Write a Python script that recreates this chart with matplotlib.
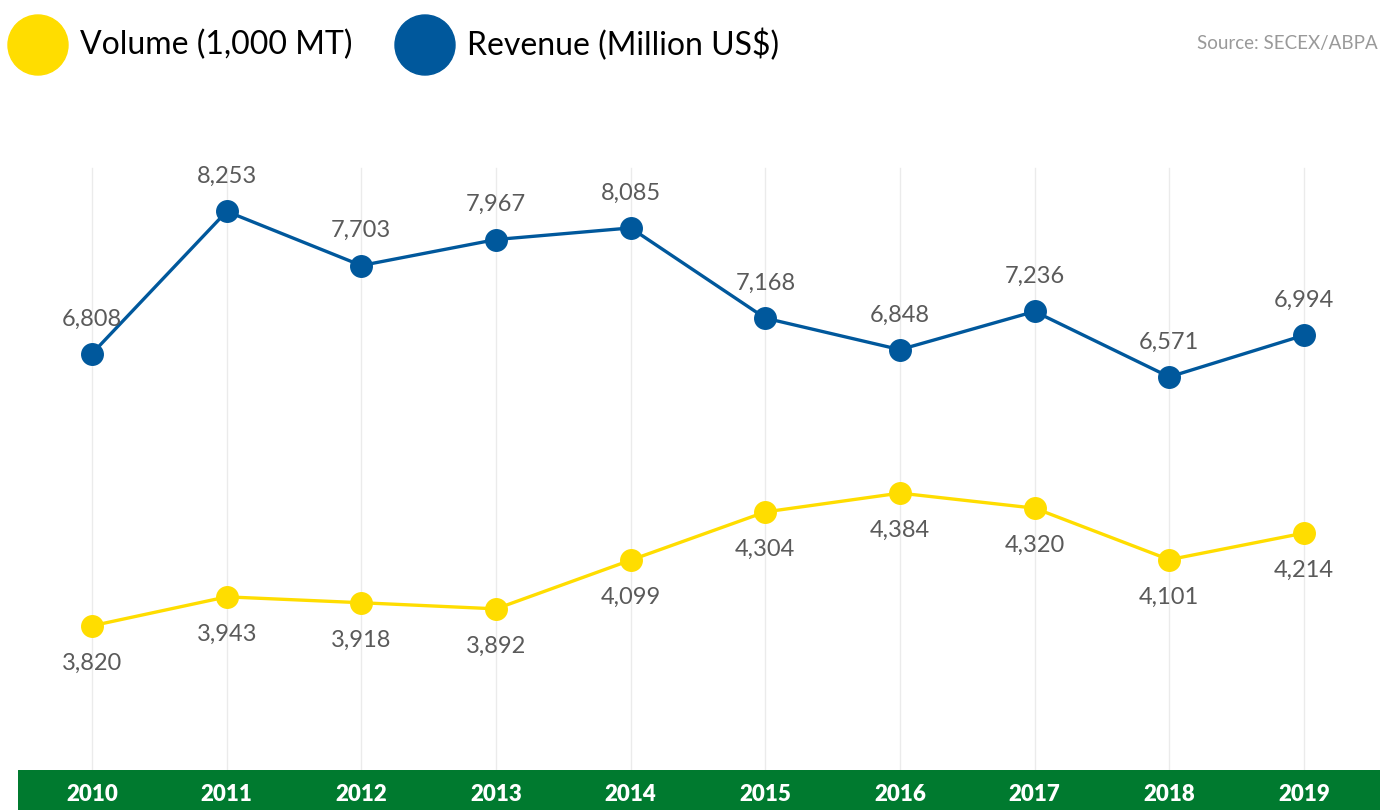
import matplotlib.pyplot as plt
from matplotlib.patches import Rectangle, Ellipse

years = [2010, 2011, 2012, 2013, 2014, 2015, 2016, 2017, 2018, 2019]
revenue = [6808, 8253, 7703, 7967, 8085, 7168, 6848, 7236, 6571, 6994]
volume = [3820, 3943, 3918, 3892, 4099, 4304, 4384, 4320, 4101, 4214]

YELLOW = "#FFDD00"
BLUE = "#00589C"
GREEN = "#007A2F"
GREY = "#5a5a5a"

plt.rcParams['font.family'] = ['Lato', 'DejaVu Sans']

fig = plt.figure(figsize=(13.91, 8.10), dpi=100)
W, H = 1391, 810

# plot area in pixel terms: x 18..1380, y 100..770 (from top)
ax = fig.add_axes([18 / W, 40 / H, 1362 / W, 670 / H])
ax.set_xlim(2010 - 0.55, 2019 + 0.565)
ax.set_ylim(2576, 9385)
ax.axis('off')
ax2 = ax.twinx()
ax2.set_ylim(3207, 6055)
ax2.axis('off')

# light vertical gridlines
for yr in years:
    ax.axvline(yr, ymin=0, ymax=(770 - 168) / 670, color="#ebebeb", lw=1, zorder=0)

ax.plot(years, revenue, color=BLUE, lw=2.4, marker='o', markersize=15.5, zorder=3)
ax2.plot(years, volume, color=YELLOW, lw=2.4, marker='o', markersize=15.5, zorder=3)

for x, v in zip(years, revenue):
    ax.annotate(f"{v:,}", (x, v), xytext=(0, 25), textcoords='offset points',
                ha='center', va='center', fontsize=17, color=GREY)
for x, v in zip(years, volume):
    ax2.annotate(f"{v:,}", (x, v), xytext=(0, -27), textcoords='offset points',
                 ha='center', va='center', fontsize=17, color=GREY)

# green year band
band = fig.add_axes([18 / W, 0, 1362 / W, 40 / H])
band.set_xlim(ax.get_xlim())
band.set_ylim(0, 1)
band.add_patch(Rectangle((band.get_xlim()[0], 0), band.get_xlim()[1] - band.get_xlim()[0], 1,
                         color=GREEN))
band.axis('off')
for yr in years:
    band.text(yr, 0.38, str(yr), ha='center', va='center', color='white',
              fontsize=16, fontweight='heavy')

# legend header
fig.patches.append(Ellipse((38 / W, 1 - 45 / H), 60 / W, 60 / H, transform=fig.transFigure,
                           color=YELLOW))
fig.text(80 / W, 1 - 45 / H, "Volume (1,000 MT)", fontsize=23, va='center', ha='left',
         color='black')
fig.patches.append(Ellipse((425 / W, 1 - 45 / H), 60 / W, 60 / H, transform=fig.transFigure,
                           color=BLUE))
fig.text(467 / W, 1 - 45 / H, "Revenue (Million US$)", fontsize=23, va='center', ha='left',
         color='black')
fig.text(1378 / W, 1 - 43 / H, "Source: SECEX/ABPA", fontsize=13.5, va='center', ha='right',
         color='#999999')

fig.savefig("out.png", dpi=100)
